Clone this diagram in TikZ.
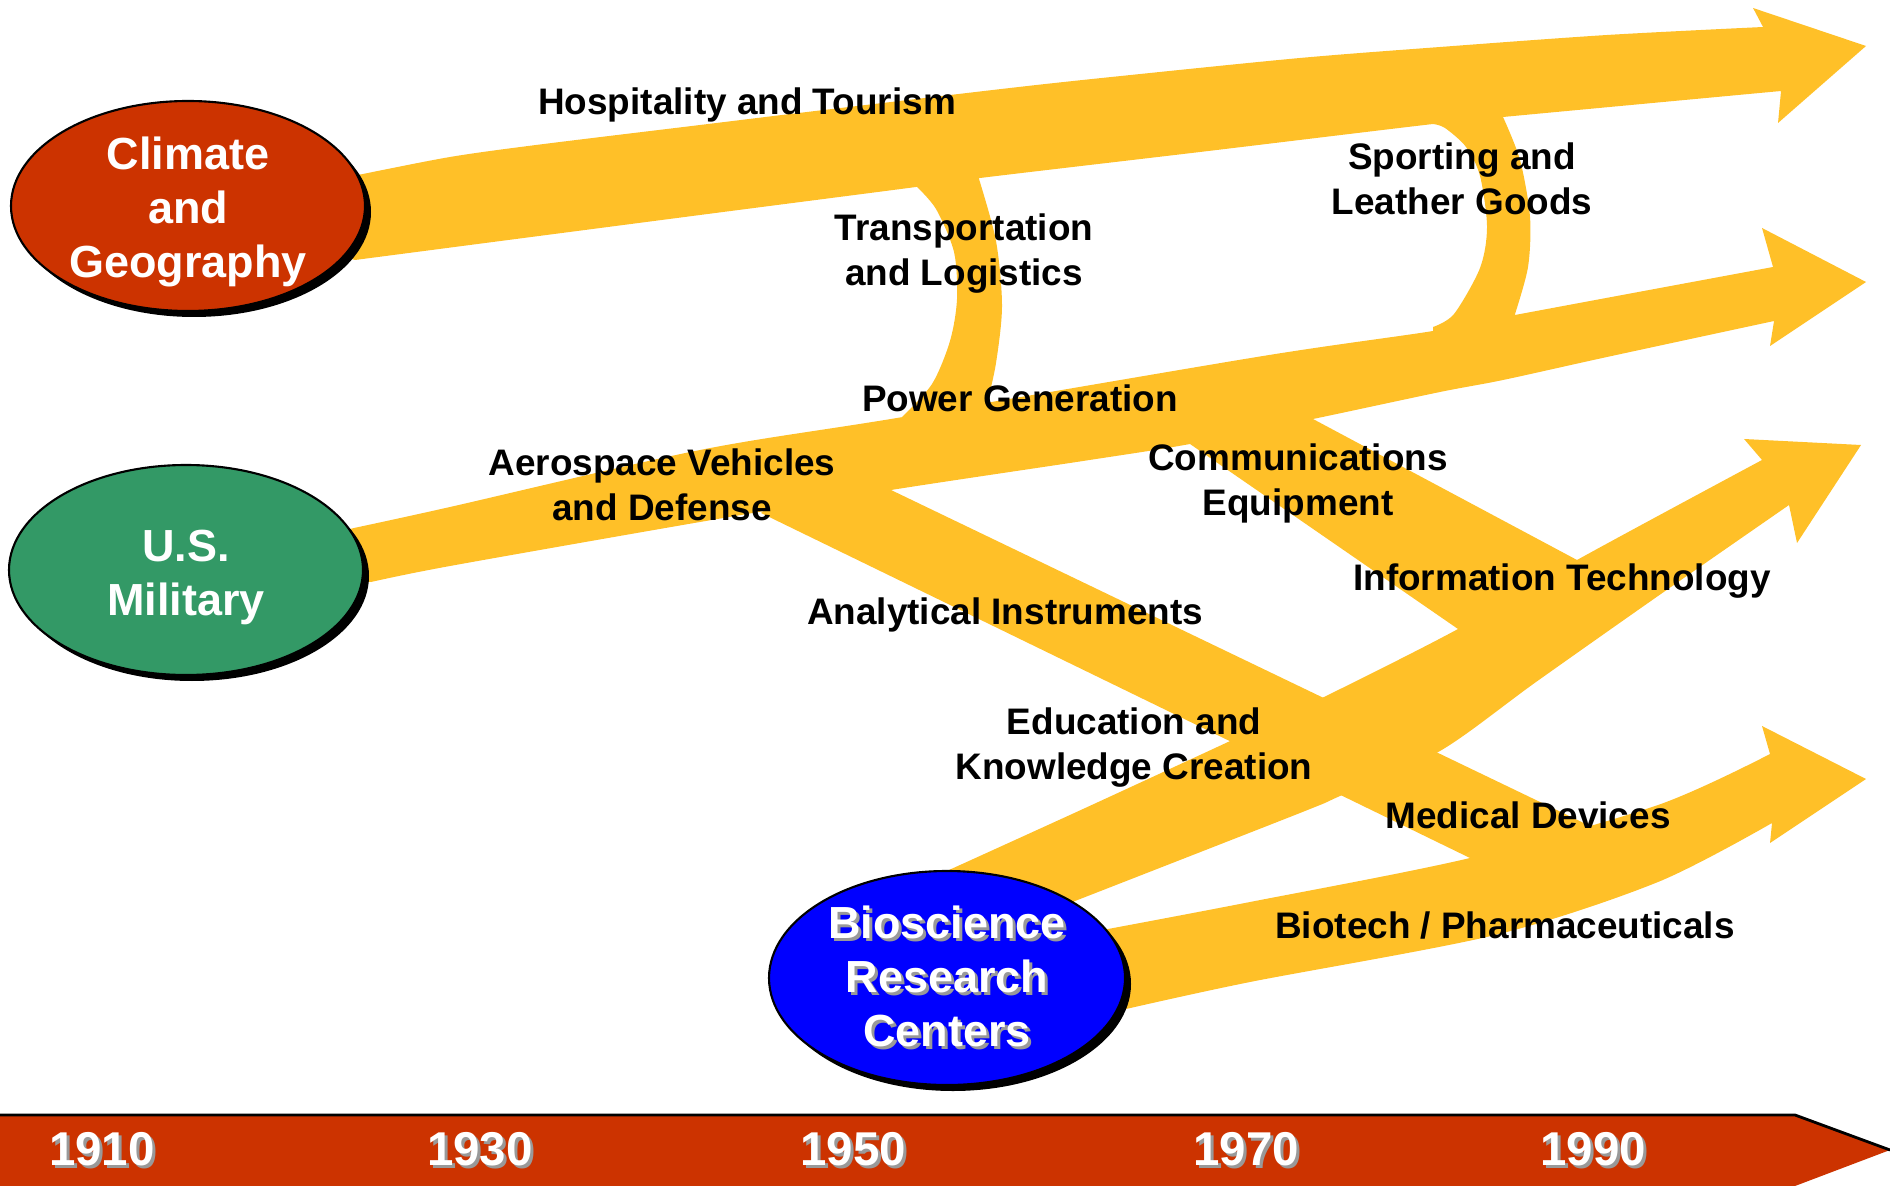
\documentclass[tikz,border=0pt]{standalone}
\usepackage{fontspec}
\setmainfont{Liberation Sans}
\usetikzlibrary{shapes.geometric,shadows}
\definecolor{climred}{HTML}{CC3300}
\definecolor{milgreen}{HTML}{339966}
\definecolor{bioblue}{HTML}{0000FF}
\definecolor{bandyel}{HTML}{FFC028}
\pgfdeclarelayer{bands}
\pgfsetlayers{bands,main}
\newcommand{\shadowed}[1]{\makebox[0pt][l]{\hspace{0.3mm}\raisebox{-0.3mm}{\textcolor{black!40}{#1}}}#1}

\begin{document}
\begin{tikzpicture}[x=0.1mm, y=-0.1mm,
  hub/.style={ellipse, draw=black, line width=0.6pt, minimum width=35.4mm, minimum height=21mm,
    inner sep=-3mm, text=white, align=center, font=\fontsize{12.8}{15.4}\selectfont\bfseries,
    drop shadow={shadow xshift=0.6mm, shadow yshift=-0.6mm, fill=black, opacity=1}},
  lbl/.style={inner sep=0pt, align=center, font=\fontsize{10.5}{12.8}\selectfont\bfseries},
  yr/.style={inner sep=0pt, text=white, font=\fontsize{13.5}{16}\selectfont\bfseries},
  band/.style={fill=bandyel}]
\useasboundingbox (0,0) rectangle (1890,1186);

% time line
\fill[climred] (0,1115) -- (1795,1115) -- (1890,1150) -- (1795,1186) -- (0,1186) -- cycle;
\draw[line width=0.8pt] (0,1115) -- (1795,1115) -- (1890,1150);
\node[yr] (y1910) at (102,1151) {\shadowed{1910}};
\node[yr] (y1930) at (480,1151) {\shadowed{1930}};
\node[yr] (y1950) at (853,1151) {\shadowed{1950}};
\node[yr] (y1970) at (1246,1151) {\shadowed{1970}};
\node[yr] (y1990) at (1593,1151) {\shadowed{1990}};

% sources
\node[hub, fill=climred] (clim) at (188,206) {\rule{0pt}{12.8pt}Climate\\and\\Geography};
\node[hub, fill=milgreen] (mil) at (186,570) {\rule{0pt}{13.3pt}U.S.\\Military};
\node[hub, fill=bioblue, minimum width=35.6mm, minimum height=21.4mm] (bio) at (947,978)
  {\shadowed{Bioscience}\\\shadowed{Research}\\\shadowed{Centers}};

% arrow tips
\coordinate (tipHosp) at (1866,46);
\coordinate (tipPower) at (1866,282);
\coordinate (tipInfo) at (1861,445);
\coordinate (tipBio) at (1866,779);

% yellow bands
\begin{pgfonlayer}{bands}
\fill[band] (clim.center) -- plot[smooth, tension=0.5] coordinates {(363,174) (450,157) (536,145) (700,125) (807,112) (1010,88) (1121,76) (1300,58) (1440,47) (1607,35) (1763,27)}
  -- (1753,8) -- (tipHosp) -- (1778,123) -- (1781,91)
  -- plot[smooth, tension=0.5] coordinates {(1781,91) (1503,117) (1433,124) (1200,152) (980,178) (916,187) (700,215) (355,260)} -- cycle;
\fill[band] (930,170) -- plot[smooth, tension=0.5] coordinates {(916,186) (936,209) (954,252) (957,299) (950,341) (932,384) (902,417)}
  -- (902,440) -- (990,425)
  -- plot[smooth, tension=0.5] coordinates {(987,404) (996,363) (1002,306) (996,241) (979,179)} -- (975,165) -- cycle;
\fill[band] (1440,110) -- plot[smooth, tension=0.5] coordinates {(1433,124) (1445,128) (1466,147) (1480,176) (1487,227) (1480,268) (1454,314) (1433,327)}
  -- (1433,345) -- (1515,330)
  -- plot[smooth, tension=0.5] coordinates {(1515,314) (1528,267) (1530,217) (1520,160) (1503,117)} -- (1500,100) -- cycle;
\fill[band] (mil.center) -- plot[smooth, tension=0.5] coordinates {(354,528) (450,507) (700,450) (903,417) (1263,356) (1433,331) (1515,315) (1773,267)}
  -- (1762,228) -- (tipPower) -- (1770,346) -- (1774,321)
  -- plot[smooth, tension=0.5] coordinates {(1774,321) (1607,357) (1503,380) (1440,392) (1313,419) (1190,444) (1083,461) (891,490) (700,522) (450,566) (371,582)} -- cycle;
\fill[band] (800,480) -- (891,490) -- (1590,826) -- (1540,905) -- (1470,858) -- (761,513) -- cycle;
\fill[band] (1230,420) -- (1313,419) -- (1577,560) -- (1580,590) -- (1470,640) -- (1458,629) -- (1190,444) -- cycle;
\fill[band] (bio.center) -- plot[smooth, tension=0.5] coordinates {(949,870) (1083,809) (1228,742) (1326,696) (1458,629) (1577,560) (1762,460)}
  -- (1744,439) -- (tipInfo) -- (1797,543) -- (1789,505)
  -- plot[smooth, tension=0.5] coordinates {(1789,505) (1658,596) (1536,682) (1440,751) (1340,796) (1300,813) (1075,901)} -- cycle;
\fill[band] (bio.center) -- plot[smooth, tension=0.5] coordinates {(1108,929) (1250,902) (1470,858) (1658,805) (1770,754)}
  -- (1762,726) -- (tipBio) -- (1770,843) -- (1772,823)
  -- plot[smooth, tension=0.5] coordinates {(1772,823) (1658,882) (1495,935) (1250,982) (1126,1009)} -- cycle;
\end{pgfonlayer}

% industries
\node[lbl] (hosp) at (747,105) {Hospitality and Tourism};
\node[lbl] (trans) at (964,254) {Transportation\\and Logistics};
\node[lbl] (sport) at (1462,179) {Sporting and\\Leather Goods};
\node[lbl] (power) at (1020,398) {Power Generation};
\node[lbl] (aero) at (662,485) {Aerospace Vehicles\\and Defense};
\node[lbl] (comm) at (1298,483) {Communications\\Equipment};
\node[lbl] (info) at (1562,581) {Information Technology};
\node[lbl] (analyt) at (1005,615) {Analytical Instruments};
\node[lbl] (edu) at (1134,748) {Education and\\Knowledge Creation};
\node[lbl] (med) at (1528,815) {Medical Devices};
\node[lbl] (biotech) at (1505,925) {Biotech / Pharmaceuticals};
\end{tikzpicture}
\end{document}
